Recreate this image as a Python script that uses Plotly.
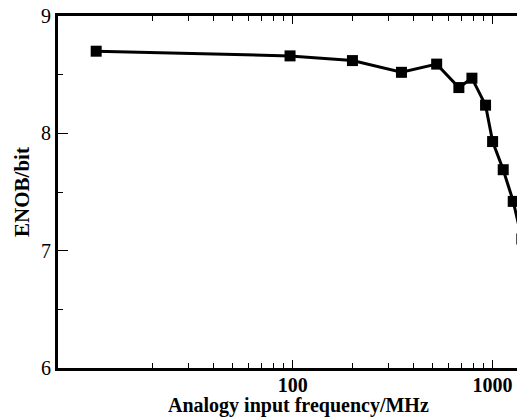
import plotly.graph_objects as go

freq_mhz = [10.4, 97, 199, 350, 525, 678, 788, 922, 1000, 1130, 1268, 1400]
enob_bit = [8.70, 8.66, 8.62, 8.52, 8.59, 8.39, 8.47, 8.24, 7.93, 7.69, 7.42, 7.10]

x_major = [100, 1000]
x_major_text = ["100", "1000"]
x_minor = [20, 30, 40, 50, 60, 70, 80, 90, 200, 300, 400, 500, 600, 700, 800, 900]
y_major = [6, 7, 8, 9]
y_minor = [6.5, 7.5, 8.5]
x_title = "Analogy input frequency/MHz"
y_title = "ENOB/bit"

fig = go.Figure()
fig.add_trace(go.Scatter(
    x=freq_mhz, y=enob_bit, mode="lines+markers",
    line=dict(color="black", width=3),
    marker=dict(symbol="square", size=11, color="black"),
    cliponaxis=True, showlegend=False,
))

serif = "Liberation Serif"
fig.update_layout(
    width=517, height=419,
    margin=dict(l=58, r=0, t=16, b=51, autoexpand=False),
    paper_bgcolor="white", plot_bgcolor="white",
    xaxis=dict(
        type="log", range=[0.826, 3.122], automargin=False,
        tickmode="array", tickvals=x_major, ticktext=x_major_text,
        ticks="inside", ticklen=8, tickwidth=1, tickcolor="black",
        ticklabelstandoff=-3,
        minor=dict(tickmode="array", tickvals=x_minor, ticks="inside",
                   ticklen=5, tickwidth=1, tickcolor="black", showgrid=False),
        showline=True, linecolor="black", linewidth=3, mirror="ticks",
        showgrid=False, zeroline=False,
        tickfont=dict(family=serif, size=20, color="black", weight="bold"),
    ),
    yaxis=dict(
        range=[6, 9], automargin=False,
        tickmode="array", tickvals=y_major,
        ticks="inside", ticklen=10, tickwidth=1, tickcolor="black",
        minor=dict(tickmode="array", tickvals=y_minor, ticks="inside",
                   ticklen=5, tickwidth=1, tickcolor="black", showgrid=False),
        showline=True, linecolor="black", linewidth=3, mirror=False,
        showgrid=False, zeroline=False,
        tickfont=dict(family=serif, size=20, color="black"),
        title=dict(text=y_title, standoff=6,
                   font=dict(family=serif, size=21, color="black", weight="bold")),
    ),
    annotations=[dict(
        text=x_title, xref="paper", yref="paper", x=0.523, y=-0.106,
        xanchor="center", yanchor="middle", showarrow=False,
        font=dict(family=serif, size=20, color="black", weight="bold"),
    )],
)

fig.write_html("out.html", config={"displayModeBar": False},
               post_script="document.body.style.margin='0';document.body.style.overflow='hidden';")
